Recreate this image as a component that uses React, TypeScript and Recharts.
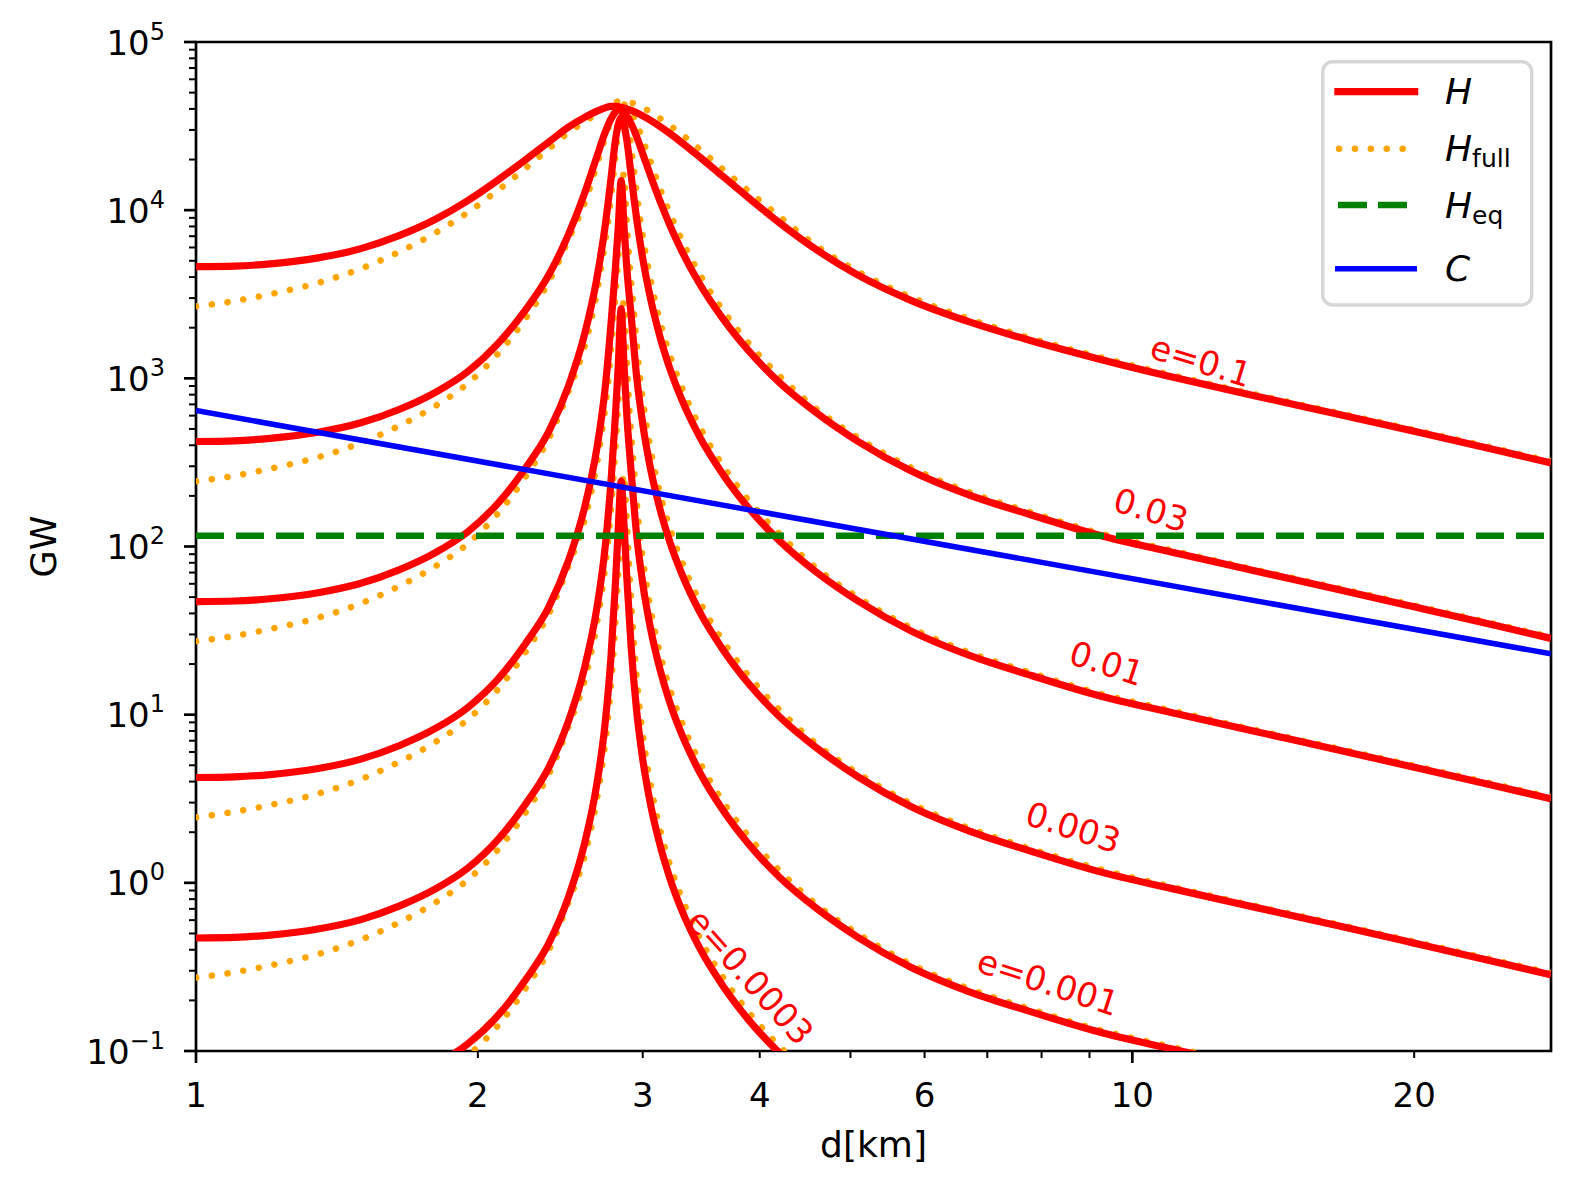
import React from 'react';
import { LineChart, Line, XAxis, YAxis, ReferenceArea, ReferenceDot } from 'recharts';

const FONT = "'DejaVu Sans', sans-serif";

// distance grid [km] for the H curves, dense around the resonance
const dKm = [1, 1.1, 1.2, 1.35, 1.5, 1.65, 1.8, 1.95, 2.1, 2.25, 2.38, 2.5, 2.6, 2.68, 2.735, 2.775, 2.805, 2.825, 2.845, 2.865, 2.885, 2.916, 2.955, 3.0, 3.06, 3.13, 3.21, 3.3, 3.45, 3.65, 3.9, 4.2, 4.6, 5.1, 5.8, 6.7, 7.8, 9.2, 11, 13.5, 16.5, 20, 24, 28];
// H_full peaks a little further out
const dKmFull = [1, 1.1, 1.2, 1.35, 1.5, 1.65, 1.8, 1.95, 2.1, 2.25, 2.38, 2.5, 2.616, 2.697, 2.752, 2.792, 2.822, 2.843, 2.863, 2.883, 2.903, 2.934, 2.973, 3.019, 3.079, 3.149, 3.23, 3.32, 3.471, 3.673, 3.924, 4.226, 4.6, 5.1, 5.8, 6.7, 7.8, 9.2, 11, 13.5, 16.5, 20, 24, 28];

// H [GW] per eccentricity
const hE1 = [4620, 4650, 4794, 5205, 5906, 7080, 8800, 11370, 15070, 19990, 25380, 31200, 35600, 38800, 40600, 41400, 41400, 41200, 40900, 40460, 40010, 39170, 37940, 36370, 34140, 31470, 28480, 25330, 20740, 15950, 11730, 8400, 5810, 4090, 2910, 2165, 1672, 1305, 1023, 789, 615, 484, 384, 314];
const hE03 = [421, 425, 440, 478, 544, 655, 823, 1094, 1603, 2560, 4100, 7200, 12590, 20820, 29000, 34990, 38260, 39240, 38700, 38030, 36230, 32630, 27430, 21640, 15890, 11330, 8040, 5760, 3650, 2280, 1440, 942, 623, 420, 282, 202, 154, 117, 92.7, 71.7, 55.9, 43.8, 34.7, 28.4];
const hE01 = [47, 47.4, 48.9, 53.1, 60.4, 72.9, 91.7, 122, 180, 294, 480, 905, 1824, 3931, 8043, 15510, 26000, 32500, 35500, 32000, 26000, 16000, 8936, 5163, 2933, 1768, 1126, 754, 450, 271, 167, 108, 70.3, 47.2, 31.5, 22.5, 17.1, 13.0, 10.3, 7.97, 6.21, 4.87, 3.86, 3.16];
const hE003 = [4.23, 4.27, 4.4, 4.78, 5.44, 6.56, 8.25, 11.0, 16.2, 26.6, 43.5, 82.8, 170, 384, 872, 2116, 4500, 8000, 15000, 8000, 4500, 2354, 1030, 535, 285, 167, 104.8, 69.4, 41.0, 24.6, 15.1, 9.72, 6.34, 4.25, 2.84, 2.03, 1.54, 1.17, 0.927, 0.717, 0.559, 0.438, 0.347, 0.284];
const hE001 = [0.47, 0.474, 0.489, 0.531, 0.604, 0.729, 0.917, 1.22, 1.8, 2.95, 4.83, 9.2, 19.0, 43.1, 98.9, 246, 600, 1200, 2600, 1200, 600, 277, 117.8, 60.3, 32.0, 18.6, 11.6, 7.71, 4.56, 2.73, 1.68, 1.08, 0.704, 0.472, 0.315, 0.225, 0.171, 0.13, 0.103, 0.0797, 0.0621, 0.0487, 0.0386, 0.0316];
const hE0003 = [0.0423, 0.0427, 0.044, 0.0478, 0.0544, 0.0656, 0.0825, 0.11, 0.162, 0.266, 0.435, 0.828, 1.71, 3.88, 8.9, 22.3, 60, 130, 245, 135, 65, 25.1, 10.6, 5.43, 2.88, 1.68, 1.05, 0.694, 0.41, 0.246, 0.151, 0.0972, 0.0634, 0.0425, 0.0284, 0.0203, 0.0154, 0.0117, 0.0093, 0.0072, 0.0056, 0.0044, 0.0035, 0.0028];

// H_full [GW] per eccentricity
const fullE1 = [2680, 2883, 3164, 3696, 4489, 5664, 7304, 9665, 13110, 17790, 23100, 29020, 34200, 38800, 41800, 43600, 44300, 44600, 44600, 44200, 43800, 43090, 41730, 40010, 37550, 34300, 31040, 27610, 22400, 17070, 12490, 8904, 6130, 4295, 3041, 2252, 1731, 1344, 1049, 805, 627, 494, 392, 320];
const fullE03 = [244, 263.5, 290.4, 339.4, 413.4, 524, 683, 930, 1395, 2278, 3731, 6696, 12086, 20820, 29870, 37090, 41320, 43160, 42570, 41830, 39850, 35890, 30170, 23800, 17480, 12350, 8764, 6278, 3942, 2440, 1534, 998, 657, 441, 295, 210, 159, 120.5, 95.0, 73.1, 57.0, 44.7, 35.4, 29.0];
const fullE01 = [27.3, 29.4, 32.3, 37.7, 45.9, 58.3, 76.1, 103.7, 156.6, 261.7, 436.8, 841.7, 1751, 3931, 8284, 16440, 28080, 35750, 39050, 35200, 28600, 17600, 9830, 5679, 3226, 1927, 1227, 822, 486, 290, 178, 114.5, 74.2, 49.6, 32.9, 23.4, 17.7, 13.4, 10.6, 8.13, 6.33, 4.97, 3.94, 3.22];
const fullE003 = [2.45, 2.65, 2.9, 3.39, 4.13, 5.25, 6.85, 9.35, 14.1, 23.7, 39.6, 77.0, 163, 384, 898, 2243, 4860, 8800, 16500, 8800, 4950, 2589, 1133, 589, 314, 182, 114, 75.6, 44.3, 26.3, 16.1, 10.3, 6.69, 4.46, 2.97, 2.11, 1.59, 1.21, 0.95, 0.731, 0.57, 0.447, 0.354, 0.29];
const fullE001 = [0.273, 0.294, 0.323, 0.377, 0.459, 0.583, 0.761, 1.04, 1.57, 2.63, 4.4, 8.56, 18.2, 43.1, 102, 261, 648, 1320, 2860, 1320, 660, 305, 130, 66.3, 35.2, 20.3, 12.6, 8.4, 4.92, 2.92, 1.79, 1.14, 0.743, 0.496, 0.329, 0.234, 0.177, 0.134, 0.106, 0.0813, 0.0633, 0.0497, 0.0394, 0.0322];
const fullE0003 = [0.0245, 0.0265, 0.029, 0.0339, 0.0413, 0.0525, 0.0685, 0.0935, 0.141, 0.237, 0.396, 0.77, 1.64, 3.88, 9.17, 23.6, 64.8, 143, 270, 149, 71.5, 27.6, 11.7, 5.97, 3.17, 1.83, 1.14, 0.756, 0.443, 0.263, 0.161, 0.103, 0.0669, 0.0446, 0.0297, 0.0211, 0.0159, 0.0121, 0.0095, 0.0073, 0.0057, 0.0045, 0.0036, 0.0029];

// C and H_eq
const cDist = [1, 28];
const cGW = [644, 23];
const eqDist = [1, 28];
const eqGW = [116, 116];

// inline curve labels
const curveLabels = ['e=0.1', '0.03', '0.01', '0.003', 'e=0.001', 'e=0.0003'];
const curveLabelDist = [11.84, 10.47, 9.39, 8.65, 8.13, 3.91];
const curveLabelGW = [1270, 165, 20.2, 2.14, 0.256, 0.276];
const curveLabelAngle = [17, 17, 18, 18, 18, 48];

// ticks
const xTicks = [1, 2, 3, 4, 5, 6, 7, 8, 9, 10, 20];
const xTickLabels = [1, 2, 3, 4, 6, 10, 20];
const yExponents = [-1, 0, 1, 2, 3, 4, 5];
const ySubs = [2, 3, 4, 5, 6, 7, 8, 9];

const toRows = (ds: number[], vs: number[]) => ds.map((d, i) => ({ d, v: vs[i] }));

const hSeries = [hE1, hE03, hE01, hE003, hE001, hE0003].map((v) => toRows(dKm, v));
const fullSeries = [fullE1, fullE03, fullE01, fullE003, fullE001, fullE0003].map((v) => toRows(dKmFull, v));
const cRows = toRows(cDist, cGW);
const eqRows = toRows(eqDist, eqGW);

const yTicks: number[] = [];
yExponents.forEach((e) => {
  yTicks.push(Math.pow(10, e));
  if (e < 5) ySubs.forEach((s) => yTicks.push(s * Math.pow(10, e)));
});

const isDecade = (v: number) => Math.abs(Math.log10(v) - Math.round(Math.log10(v))) < 1e-9;

const XTick = (props: any) => {
  const { x, y, payload } = props;
  const v = payload.value;
  const major = v === 1 || v === 10;
  return (
    <g>
      <line x1={x} x2={x} y1={y} y2={y + (major ? 12 : 7)} stroke="#000" strokeWidth={major ? 2.7 : 2} />
      {xTickLabels.includes(v) && (
        <text x={x} y={y + 56} textAnchor="middle" fontSize={34} fontFamily={FONT} fill="#000">
          {v}
        </text>
      )}
    </g>
  );
};

const YTick = (props: any) => {
  const { x, y, payload } = props;
  const v = payload.value;
  const major = isDecade(v);
  const exp = Math.round(Math.log10(v));
  return (
    <g>
      <line x1={x - (major ? 12 : 7)} x2={x} y1={y} y2={y} stroke="#000" strokeWidth={major ? 2.7 : 2} />
      {major && (
        <text x={x - 31} y={y + 12.5} textAnchor="end" fontSize={34} fontFamily={FONT} fill="#000">
          10
          <tspan dy={-15} fontSize={24}>
            {exp < 0 ? '\u2212' + Math.abs(exp) : String(exp)}
          </tspan>
        </text>
      )}
    </g>
  );
};

const xLabel = (props: any) => {
  const { x, y, width } = props.viewBox;
  return (
    <text x={x + width / 2} y={y + 106} textAnchor="middle" fontSize={36} fontFamily={FONT} fill="#000">
      d[km]
    </text>
  );
};

const yLabel = (props: any) => {
  const { x, y, height } = props.viewBox;
  const cx = x + 47.5;
  const cy = y + height / 2;
  return (
    <text x={cx} y={cy} transform={`rotate(-90 ${cx} ${cy})`} textAnchor="middle" fontSize={35} fontFamily={FONT} fill="#000">
      GW
    </text>
  );
};

const LegendBox = () => (
  <svg width={230} height={260} style={{ position: 'absolute', left: 1313, top: 52 }}>
    <rect x={1.7} y={1.7} width={209} height={243.3} rx={10} fill="#fff" fillOpacity={0.8} stroke="#d6d6d6" strokeWidth={3.4} />
    <line x1={13.3} x2={97.3} y1={31.7} y2={31.7} stroke="#ff0000" strokeWidth={7.2} />
    <line x1={18} x2={82} y1={88.7} y2={88.7} stroke="#ffa500" strokeWidth={6.5} strokeDasharray="0.1 15.8" strokeLinecap="round" />
    <line x1={17} x2={86} y1={145} y2={145} stroke="#008000" strokeWidth={6.5} strokeDasharray="29 11" />
    <line x1={14} x2={96} y1={208.7} y2={208.7} stroke="#0000ff" strokeWidth={5.5} />
    <g fontFamily={FONT} fontSize={36} fill="#000">
      <text x={124} y={44} fontStyle="italic">H</text>
      <text x={124} y={101}>
        <tspan fontStyle="italic">H</tspan>
        <tspan fontSize={25} dy={6}>full</tspan>
      </text>
      <text x={124} y={157.5}>
        <tspan fontStyle="italic">H</tspan>
        <tspan fontSize={25} dy={6}>eq</tspan>
      </text>
      <text x={124} y={221} fontStyle="italic">C</text>
    </g>
  </svg>
);

export default function App() {
  return (
    <div style={{ position: 'relative', width: 1560, height: 1170 }}>
      <LineChart width={1560} height={1170} margin={{ top: 34, right: 17, left: 0, bottom: 37 }}>
        <XAxis
          type="number"
          dataKey="d"
          scale="log"
          domain={[1, 28]}
          allowDataOverflow
          ticks={xTicks}
          interval={0}
          tick={<XTick />}
          tickSize={0}
          tickMargin={0}
          tickLine={false}
          axisLine={false}
          height={90}
          label={xLabel}
        />
        <YAxis
          type="number"
          scale="log"
          domain={[0.1, 100000]}
          allowDataOverflow
          ticks={yTicks}
          interval={0}
          tick={<YTick />}
          tickSize={0}
          tickMargin={0}
          tickLine={false}
          axisLine={false}
          width={188}
          label={yLabel}
        />
        {fullSeries.map((rows, i) => (
          <Line
            key={'full' + i}
            data={rows}
            dataKey="v"
            type="monotone"
            stroke="#ffa500"
            strokeWidth={6.5}
            strokeDasharray="0.1 15.8"
            strokeLinecap="round"
            dot={false}
            activeDot={false}
            isAnimationActive={false}
          />
        ))}
        {hSeries.map((rows, i) => (
          <Line
            key={'h' + i}
            data={rows}
            dataKey="v"
            type="monotone"
            stroke="#ff0000"
            strokeWidth={7.2}
            strokeLinejoin="round"
            dot={false}
            activeDot={false}
            isAnimationActive={false}
          />
        ))}
        <Line data={eqRows} dataKey="v" stroke="#008000" strokeWidth={6.5} strokeDasharray="28 12" dot={false} activeDot={false} isAnimationActive={false} />
        <Line data={cRows} dataKey="v" stroke="#0000ff" strokeWidth={5.5} dot={false} activeDot={false} isAnimationActive={false} />
        <ReferenceArea x1={1} x2={28} y1={0.1} y2={100000} fill="none" stroke="#000" strokeWidth={2.7} />
        {curveLabels.map((t, i) => (
          <ReferenceDot
            key={t}
            x={curveLabelDist[i]}
            y={curveLabelGW[i]}
            r={1}
            shape={(p: any) => (
              <text
                x={p.cx}
                y={p.cy}
                transform={`rotate(${curveLabelAngle[i]} ${p.cx} ${p.cy})`}
                textAnchor="middle"
                dominantBaseline="central"
                fontSize={34}
                fontFamily={FONT}
                fill="#ff0000"
              >
                {t}
              </text>
            )}
          />
        ))}
      </LineChart>
      <LegendBox />
    </div>
  );
}
